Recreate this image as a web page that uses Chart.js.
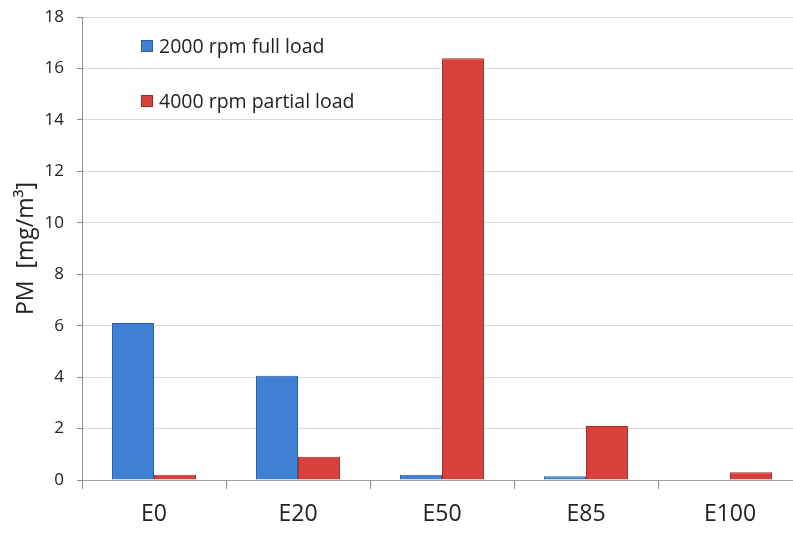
<!DOCTYPE html>
<html>
<head>
<meta charset="utf-8">
<script src="https://cdn.jsdelivr.net/npm/chart.js@4/dist/chart.umd.min.js"></script>
<style>
  html, body { margin: 0; padding: 0; background: #fff; overflow: hidden; }
  #wrap { position: relative; width: 802px; height: 533px; }
</style>
</head>
<body>
<div id="wrap"><canvas id="pmChart"></canvas></div>
<script>
var fuels = ["E0", "E20", "E50", "E85", "E100"];
var fullLoad2000 = [6.1, 4.05, 0.2, 0.15, 0.02];
var partialLoad4000 = [0.2, 0.9, 16.4, 2.1, 0.3];
var seriesNames = ["2000 rpm full load", "4000 rpm partial load"];

// legend sits inside the plot, stacked, top-left
var insideLegend = {
    id: "insideLegend",
    afterDraw: function (chart) {
        var ctx = chart.ctx;
        ctx.save();
        ctx.font = "19.5px 'Open Sans'";
        ctx.textBaseline = "middle";
        chart.data.datasets.forEach(function (ds, i) {
            var y = 46 + i * 55;
            ctx.fillStyle = ds.backgroundColor;
            ctx.fillRect(141, y - 6, 12, 12);
            ctx.strokeStyle = ds.borderColor;
            ctx.lineWidth = 1;
            ctx.strokeRect(141.5, y - 5.5, 11, 11);
            ctx.fillStyle = "#222";
            ctx.fillText(ds.label, 159, y + 1);
        });
        ctx.restore();
    }
};

new Chart(document.getElementById("pmChart"), {
    type: "bar",
    data: {
        labels: fuels,
        datasets: [{
            label: seriesNames[0],
            data: fullLoad2000,
            backgroundColor: "#3f80d3",
            borderColor: "#2b5fa8",
            borderWidth: 1
        }, {
            label: seriesNames[1],
            data: partialLoad4000,
            backgroundColor: "#d8403c",
            borderColor: "#a22c29",
            borderWidth: 1
        }]
    },
    options: {
        responsive: true,
        maintainAspectRatio: false,
        animation: false,
        layout: { padding: { top: 17, left: 0, right: 0, bottom: 0 } },
        datasets: {
            bar: { categoryPercentage: 0.583, barPercentage: 1 }
        },
        plugins: {
            legend: { display: false },
            tooltip: { enabled: false }
        },
        scales: {
            x: {
                afterFit: function (s) { s.height = 53; },
                grid: {
                    offset: true,
                    drawOnChartArea: false,
                    tickLength: 9,
                    tickColor: "#8c8c8c"
                },
                border: { color: "#a0a0a0" },
                ticks: {
                    color: "#222",
                    padding: 12,
                    font: { family: "'Open Sans'", size: 23 }
                }
            },
            y: {
                min: 0,
                max: 18,
                afterFit: function (s) {
                    s.width = 82;
                    // plot top/bottom are fixed by the layout padding instead
                    s.paddingTop = 0;
                    s.paddingBottom = 0;
                },
                ticks: {
                    stepSize: 2,
                    color: "#222",
                    padding: 13,
                    font: { family: "'Open Sans'", size: 17 }
                },
                grid: {
                    color: "#d9d9d9",
                    tickColor: "#8c8c8c",
                    tickLength: 5
                },
                border: { color: "#8c8c8c" },
                title: {
                    display: true,
                    text: "PM  [mg/m³]",
                    color: "#222",
                    padding: { top: 13, bottom: 0 },
                    font: { family: "'Open Sans'", size: 23 }
                }
            }
        }
    },
    plugins: [insideLegend]
});
</script>
</body>
</html>
